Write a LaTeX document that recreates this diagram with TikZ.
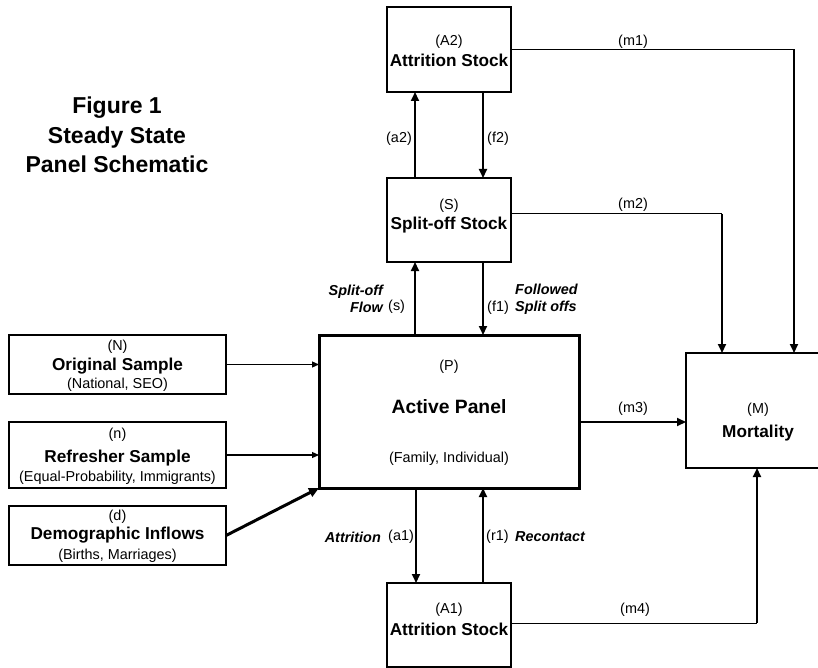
\documentclass[tikz,border=0pt]{standalone}
\usepackage{fontspec}
\setmainfont{Liberation Sans}
\usetikzlibrary{arrows.meta}
\begin{document}
\begin{tikzpicture}[x=1pt,y=-1pt,
  box/.style={draw, line width=2pt, inner sep=0, outer sep=0},
  sm/.style={font=\fontsize{14.4}{17}\selectfont, inner sep=0},
  bf/.style={font=\fontsize{17.2}{20}\selectfont\bfseries, inner sep=0},
  lab/.style={font=\fontsize{14.4}{17}\selectfont\bfseries\itshape, inner sep=0, align=left},
  arr/.style={line width=2pt, -{Triangle[length=9pt,width=8pt]}},
  thinarr/.style={line width=1.2pt, -{Triangle[length=7pt,width=6pt]}},
  mline/.style={line width=1pt}]
\useasboundingbox (0,0) rectangle (818,668);
\clip (0,0) rectangle (818,668);

% title
\node[font=\fontsize{23}{29.5}\selectfont\bfseries, align=center, inner sep=0] (title) at (117,135) {Figure 1\\Steady State\\Panel Schematic};

% boxes
\node[box, minimum width=124pt, minimum height=85pt] (A2) at (449,49.5) {};
\node[box, minimum width=124pt, minimum height=84pt] (S) at (449,220) {};
\node[box, line width=3pt, minimum width=260pt, minimum height=153pt] (P) at (449,411.5) {};
\node[box, minimum width=144pt, minimum height=115pt] (M) at (758,410.5) {};
\node[box, minimum width=124pt, minimum height=84pt] (A1) at (449,625) {};
\node[box, minimum width=217pt, minimum height=59pt] (N) at (117.5,364.5) {};
\node[box, minimum width=217pt, minimum height=66pt] (n) at (117.5,455) {};
\node[box, minimum width=217pt, minimum height=59pt] (d) at (117.5,535.5) {};

% box texts
\node[sm] (tA2a) at (449,42) {(A2)};
\node[bf] (tA2b) at (449,60) {Attrition Stock};
\node[sm] (tSa) at (449,206) {(S)};
\node[bf] (tSb) at (449,225) {Split-off Stock};
\node[sm] (tPa) at (449,367) {(P)};
\node[font=\fontsize{19.3}{22}\selectfont\bfseries, inner sep=0] (tPb) at (449,407) {Active Panel};
\node[sm] (tPc) at (449,459) {(Family, Individual)};
\node[sm] (tMa) at (758,410) {(M)};
\node[bf] (tMb) at (758,433) {Mortality};
\node[sm] (tA1a) at (449,610) {(A1)};
\node[bf] (tA1b) at (449,629) {Attrition Stock};
\node[sm] (tNa) at (117.5,347) {(N)};
\node[bf] (tNb) at (117.5,366) {Original Sample};
\node[sm] (tNc) at (117.5,385) {(National, SEO)};
\node[sm] (tna) at (117.5,435) {(n)};
\node[bf] (tnb) at (117.5,458) {Refresher Sample};
\node[sm] (tnc) at (117.5,478) {(Equal-Probability, Immigrants)};
\node[sm] (tda) at (117.5,517) {(d)};
\node[bf] (tdb) at (117.5,535) {Demographic Inflows};
\node[sm] (tdc) at (117.5,556) {(Births, Marriages)};

% vertical flows
\draw[arr] ([xshift=-34pt]S.north) -- ([xshift=-34pt]A2.south);
\draw[arr] ([xshift=34pt]A2.south) -- ([xshift=34pt]S.north);
\draw[arr] ([xshift=-34pt]P.north) -- ([xshift=-34pt]S.south);
\draw[arr] ([xshift=34pt]S.south) -- ([xshift=34pt]P.north);
\draw[arr] ([xshift=-33pt]P.south) -- ([xshift=-33pt]A1.north);
\draw[arr] ([xshift=34pt]A1.north) -- ([xshift=34pt]P.south);

% inflows
\draw[thinarr] (N.east) -- (N.east -| P.west);
\draw[thinarr] (n.east) -- (n.east -| P.west);
\draw[line width=3pt, -{Triangle[length=10pt,width=9pt]}] (d.east) -- (P.south west);

% mortality flows
\coordinate (c1) at ([xshift=36pt]M.north |- A2.east);
\draw[mline] (A2.east) -- (c1);
\draw[arr] (c1) -- ([xshift=36pt]M.north);
\coordinate (s2) at ([yshift=6pt]S.east);
\coordinate (c2) at ([xshift=-36pt]M.north |- s2);
\draw[mline] (s2) -- (c2);
\draw[arr] (c2) -- ([xshift=-36pt]M.north);
\coordinate (p3) at ([yshift=-10.5pt]P.east);
\draw[arr] (p3) -- (p3 -| M.west);
\coordinate (a4) at ([yshift=2pt]A1.east);
\coordinate (c4) at ([xshift=-1pt]M.south |- a4);
\draw[mline] (a4) -- (c4);
\draw[arr] (c4) -- ([xshift=-1pt]M.south);

% flow labels
\node[sm] (lm1) at (633,42) {(m1)};
\node[sm] (lm2) at (633,205) {(m2)};
\node[sm] (lm3) at (633,409) {(m3)};
\node[sm] (lm4) at (635,610) {(m4)};
\node[sm, anchor=east] (la2) at (412,139) {(a2)};
\node[sm, anchor=west] (lf2) at (487,139) {(f2)};
\node[lab, anchor=east, align=right] (lsf) at (383,298.5) {Split-off\\Flow};
\node[sm, anchor=west] (ls) at (388,307) {(s)};
\node[sm, anchor=west] (lf1) at (487,308) {(f1)};
\node[lab, anchor=west] (lfs) at (515,299) {Followed\\Split offs};
\node[lab, anchor=east] (latt) at (381,537) {Attrition};
\node[sm, anchor=west] (la1) at (388,537) {(a1)};
\node[sm, anchor=west] (lr1) at (486,537) {(r1)};
\node[lab, anchor=west] (lrc) at (515,537) {Recontact};
\end{tikzpicture}
\end{document}
